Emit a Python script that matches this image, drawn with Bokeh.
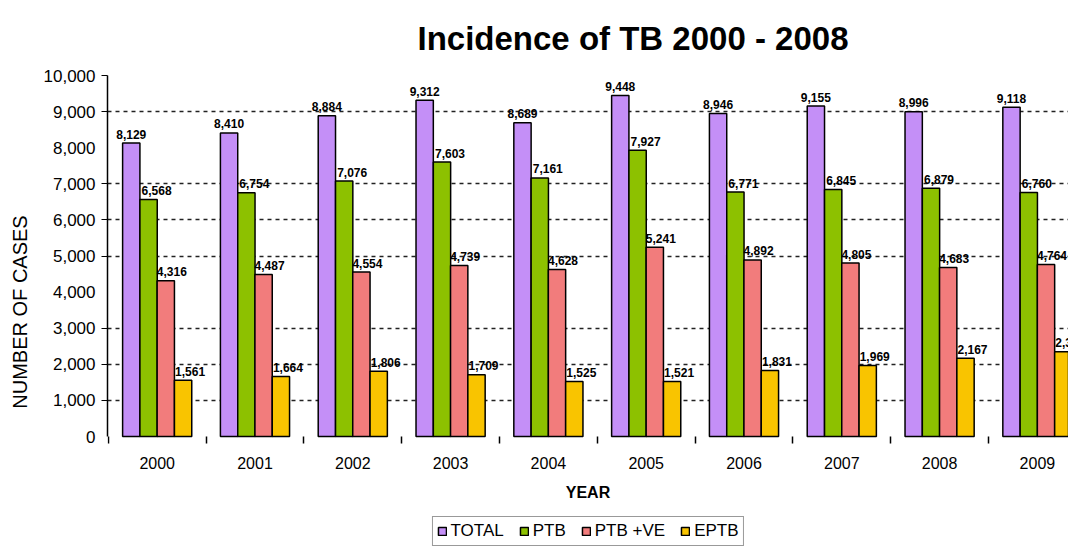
from bokeh.plotting import figure
from bokeh.models import (ColumnDataSource, Range1d, FixedTicker, NumeralTickFormatter,
                          Legend, LegendItem)
from bokeh.transform import dodge
from bokeh.core.properties import value
from bokeh.embed import file_html
from bokeh.resources import INLINE

years = [2000, 2001, 2002, 2003, 2004, 2005, 2006, 2007, 2008, 2009]
total = [8129, 8410, 8884, 9312, 8689, 9448, 8946, 9155, 8996, 9118]
ptb = [6568, 6754, 7076, 7603, 7161, 7927, 6771, 6845, 6879, 6760]
ptb_ve = [4316, 4487, 4554, 4739, 4628, 5241, 4892, 4805, 4683, 4764]
eptb = [1561, 1664, 1806, 1709, 1525, 1521, 1831, 1969, 2167, 2350]
series_names = ["TOTAL", "PTB", "PTB +VE", "EPTB"]
y_ticks = [0, 1000, 2000, 3000, 4000, 5000, 6000, 7000, 8000, 9000, 10000]
grid_ticks = [1000, 2000, 3000, 5000, 6000, 7000, 9000, 10000]

colors = ["#C48FF7", "#8DC100", "#F27C7C", "#F9C400"]
offsets = [-0.265, -0.088, 0.088, 0.265]
label_dx = [0, 8, 6, 7]
keys = ["total", "ptb", "ptb_ve", "eptb"]

data = {"year": years}
for key, vals in zip(keys, [total, ptb, ptb_ve, eptb]):
    data[key] = vals
    data[key + "_lbl"] = [f"{v:,}" for v in vals]
source = ColumnDataSource(data)

FONT = "Liberation Sans"

# frame runs to the bottom of the canvas so the legend can sit under the x axis
p = figure(width=1068, height=548, output_backend="svg", toolbar_location=None,
           x_range=Range1d(1999.492, 2009.318), y_range=Range1d(-3102, 10000),
           min_border_left=107, min_border_right=0, min_border_top=75, min_border_bottom=0)
p.outline_line_color = None
p.background_fill_color = "white"
p.border_fill_color = "white"

p.title.text = "Incidence of TB  2000 - 2008"
p.title.text_font = FONT
p.title.text_font_size = "33px"
p.title.text_font_style = "bold"
p.title.text_color = "black"
p.title.align = "left"
p.title.offset = 310
p.title.vertical_align = "top"
p.title.standoff = 33

# grid
p.xgrid.visible = False
p.ygrid.ticker = FixedTicker(ticks=grid_ticks)
p.ygrid.grid_line_color = "#222222"
p.ygrid.grid_line_dash = "4 4"
p.ygrid.grid_line_width = 1.4

# y axis
p.yaxis.ticker = FixedTicker(ticks=y_ticks, minor_ticks=grid_ticks)
p.yaxis.bounds = (0, 10000)
p.yaxis.formatter = NumeralTickFormatter(format="0,0")
p.yaxis.major_tick_out = 0
p.yaxis.major_tick_in = 0
p.yaxis.minor_tick_out = 6
p.yaxis.minor_tick_in = 0
p.yaxis.minor_tick_line_color = "black"
p.yaxis.axis_line_color = "black"
p.yaxis.axis_line_width = 1.5
p.yaxis.major_label_text_font = FONT
p.yaxis.major_label_text_font_size = "17px"
p.yaxis.major_label_text_color = "black"
p.yaxis.major_label_standoff = 6
p.yaxis.axis_label = "NUMBER OF CASES"
p.yaxis.axis_label_text_font = FONT
p.yaxis.axis_label_text_font_size = "20px"
p.yaxis.axis_label_text_font_style = "normal"
p.yaxis.axis_label_text_color = "black"
p.yaxis.axis_label_standoff = 10

# x axis, drawn at y = 0
p.xaxis.fixed_location = 0
p.xaxis.ticker = FixedTicker(ticks=years, minor_ticks=[y - 0.5 for y in years] + [years[-1] + 0.5])
p.xaxis.axis_line_color = None
p.xaxis.major_tick_out = 0
p.xaxis.major_tick_in = 0
p.xaxis.minor_tick_out = 7
p.xaxis.minor_tick_in = 0
p.xaxis.minor_tick_line_color = "black"
p.xaxis.minor_tick_line_width = 1.5
p.xaxis.major_label_text_font = FONT
p.xaxis.major_label_text_font_size = "16px"
p.xaxis.major_label_text_color = "black"
p.xaxis.major_label_standoff = 13
p.xaxis.axis_label = "YEAR"
p.xaxis.axis_label_text_font = FONT
p.xaxis.axis_label_text_font_size = "16px"
p.xaxis.axis_label_text_font_style = "bold"
p.xaxis.axis_label_text_color = "black"
p.xaxis.axis_label_standoff = 12

items = []
for key, name, col, off, dx in zip(keys, series_names, colors, offsets, label_dx):
    r = p.vbar(x=dodge("year", off, range=p.x_range), top=key, width=0.177, bottom=0,
               source=source, fill_color=col, line_color="black", line_width=1.5)
    p.text(x=dodge("year", off, range=p.x_range), y=key, text=key + "_lbl", source=source,
           text_font=value(FONT), text_font_size="12px", text_font_style="bold",
           text_align="center", text_baseline="alphabetic", x_offset=dx, y_offset=-9,
           text_color="black")
    items.append(LegendItem(label=name, renderers=[r]))

legend = Legend(items=items, orientation="horizontal", location="bottom",
                glyph_width=10, glyph_height=10, label_height=14, label_standoff=4,
                spacing=15, padding=4, margin=2,
                label_text_font=FONT, label_text_font_size="17px", label_text_color="black",
                border_line_color="#333333", border_line_width=1.5,
                background_fill_color="white", background_fill_alpha=1.0)
p.add_layout(legend, "center")

open("out.html", "w").write(file_html(p, INLINE))
